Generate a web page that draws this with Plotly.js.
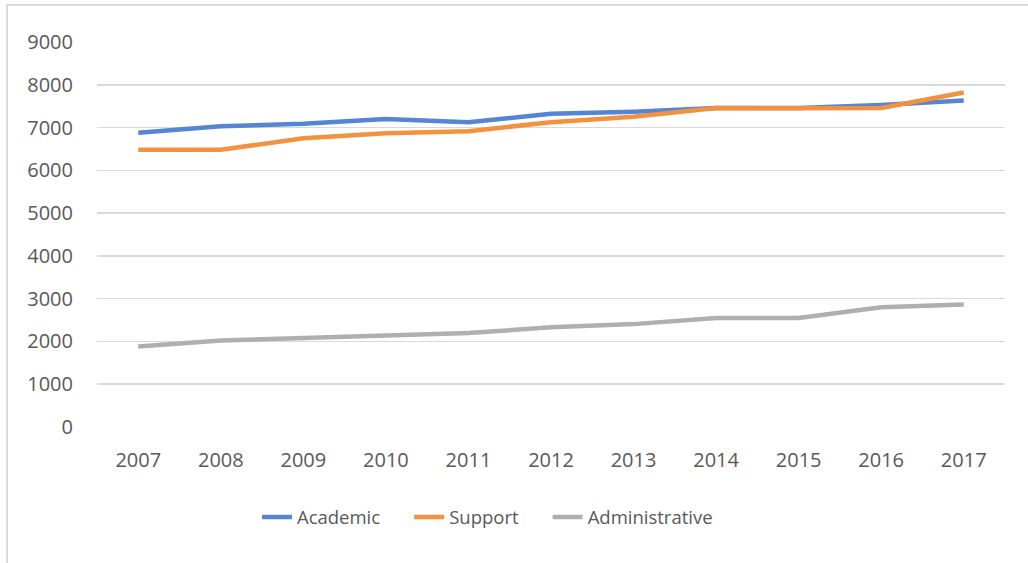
<!DOCTYPE html>
<html>
<head>
<meta charset="utf-8">
<script src="https://cdn.plot.ly/plotly-3.0.1.min.js"></script>
<style>
  html, body { margin: 0; padding: 0; background: #ffffff; }
  #frame { position: absolute; left: 6px; top: 4px; width: 1030px; height: 570px;
           border-left: 2px solid #D9D9D9; border-top: 2px solid #D9D9D9; box-sizing: border-box; }
  #chart { position: absolute; left: 0; top: 0; width: 1028px; height: 563px; }
</style>
</head>
<body>
<div id="frame"></div>
<div id="chart"></div>
<script>
const years = ["2007","2008","2009","2010","2011","2012","2013","2014","2015","2016","2017"];
const seriesNames = ["Academic", "Support", "Administrative"];
const academic = [6880, 7030, 7090, 7200, 7125, 7320, 7370, 7455, 7460, 7530, 7630];
const support = [6480, 6480, 6750, 6865, 6915, 7125, 7250, 7455, 7450, 7460, 7820];
const administrative = [1880, 2020, 2080, 2135, 2195, 2330, 2405, 2550, 2550, 2800, 2865];
const yTicks = [0, 1000, 2000, 3000, 4000, 5000, 6000, 7000, 8000, 9000];

const fontFam = '"Open Sans", "Liberation Sans", sans-serif';
const pad = '\u00a0\u00a0\u00a0\u00a0\u00a0';
function tr(name, vals, color, addPad) {
  return { x: years, y: vals, name: addPad ? name + pad : name, type: 'scatter', mode: 'lines',
           line: { color: color, width: 4.5, shape: 'linear' }, hoverinfo: 'skip' };
}
const data = [
  tr(seriesNames[0], academic, '#5585D5', true),
  tr(seriesNames[1], support, '#F4913F', true),
  tr(seriesNames[2], administrative, '#AFAFAF', false)
];
const layout = {
  width: 1028, height: 563,
  margin: { l: 97, r: 23, t: 42, b: 135.5, pad: 0 },
  paper_bgcolor: 'rgba(0,0,0,0)', plot_bgcolor: 'rgba(0,0,0,0)',
  font: { family: fontFam, size: 20, color: '#595959' },
  showlegend: true,
  legend: { orientation: 'h', x: 0.43, xanchor: 'center', y: -0.235, yanchor: 'middle',
            font: { family: fontFam, size: 18.5, color: '#595959' }, itemwidth: 30,
            bgcolor: 'rgba(0,0,0,0)' },
  xaxis: { type: 'category', range: [-0.5, 10.5], showgrid: false, zeroline: false,
           showline: false, ticks: '', ticklabelstandoff: 19, fixedrange: true,
           tickfont: { family: fontFam, size: 20, color: '#595959' } },
  yaxis: { range: [0, 9000], tickvals: yTicks, showgrid: true, gridcolor: '#D9D9D9', gridwidth: 1.5,
           zeroline: false, showline: false, ticks: '', ticklabelstandoff: 23, fixedrange: true,
           tickfont: { family: fontFam, size: 20, color: '#595959' } }
};
Plotly.newPlot('chart', data, layout, { displayModeBar: false, staticPlot: true });
</script>
</body>
</html>
